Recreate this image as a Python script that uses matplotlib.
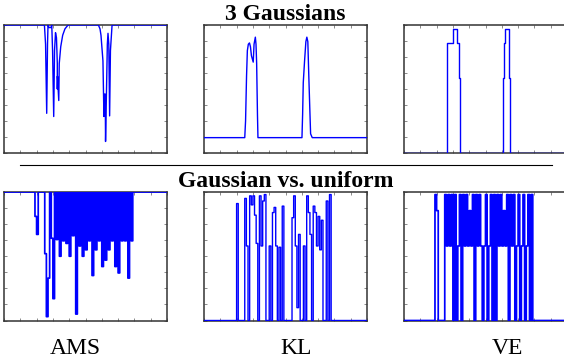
import numpy as np
import matplotlib
matplotlib.use("Agg")
import matplotlib.pyplot as plt
from matplotlib.lines import Line2D

plt.rcParams['font.family'] = ['Liberation Serif', 'DejaVu Serif']

# --- 3 Gaussians (top row), x in % of the range, y normalised 0..1 ---
ams_gauss_x = [0, 24.8, 25.5, 26.2, 26.7, 27.0, 27.6, 28.8, 29.3, 29.8,
               30.5, 31.0, 31.6, 32.2, 32.7, 32.7, 32.8, 33.6, 33.9, 34.8,
               36.0, 37.4, 39.3, 57.9, 58.9, 59.5, 60.7, 61.3, 61.6, 62.1,
               62.3, 62.9, 63.4, 63.8, 64.3, 64.8, 65.3, 66.3, 100]
ams_gauss_v = [1, 1, 0.85, 0.31, 0.85, 1, 0.98, 0.98, 1, 0.8,
               0.285, 0.8, 0.94, 0.9, 0.70, 0.50, 0.6, 0.41, 0.7, 0.83,
               0.92, 0.97, 1, 1, 0.97, 0.92, 0.72, 0.285, 0.46, 0.46,
               0.09, 0.5, 0.85, 0.935, 0.85, 0.29, 0.8, 1, 1]

kl_gauss_x = [0, 25.0, 25.5, 26.1, 26.6, 27.2, 27.9, 28.5, 29.1, 30.2,
              30.7, 31.5, 31.9, 32.3, 32.8, 33.1, 60.1, 60.5, 60.9, 61.7,
              62.5, 63.1, 63.7, 64.3, 64.9, 65.4, 66.4, 100]
kl_gauss_v = [0.12, 0.12, 0.25, 0.6, 0.8, 0.85, 0.86, 0.83, 0.76, 0.71,
              0.85, 0.905, 0.85, 0.7, 0.3, 0.12, 0.12, 0.3, 0.55, 0.72,
              0.87, 0.905, 0.87, 0.6, 0.35, 0.15, 0.12, 0.12]

ve_gauss_x = [0, 26.1, 29.8, 32.3, 33.5, 34.4, 60.7, 61.1, 61.7, 64.3, 64.6, 65.2, 100]
ve_gauss_v = [0, 0.856, 0.972, 0.856, 0.585, 0, 0.585, 0.856, 0.972, 0.856, 0.585, 0, 0]

# --- Gaussian vs. uniform (bottom row), 100 samples each ---
ams_unif = [1, 1, 1, 1, 1, 1, 1, 1, 1, 1,
            1, 1, 1, 1, 1, 1, 1, 1, 1, 0.81,
            0.67, 1, 1, 1, 1, 0.52, 0.03, 0.33, 1, 0.64,
            0.17, 1, 0.63, 1, 0.5, 1, 0.62, 1, 0.6, 1,
            0.5, 1, 0.66, 1, 0.05, 1, 0.58, 1, 0.5, 1,
            0.55, 1, 0.62, 1, 0.35, 1, 0.55, 1, 0.62, 1,
            0.42, 1, 0.47, 1, 0.55, 1, 0.62, 1, 0.42, 1,
            0.37, 1, 0.62, 1, 0.62, 1, 0.33, 1, 0.62, 1,
            1, 1, 1, 1, 1, 1, 1, 1, 1, 1,
            1, 1, 1, 1, 1, 1, 1, 1, 1, 1]

kl_unif = [0, 0, 0, 0, 0, 0, 0, 0, 0, 0,
           0, 0, 0, 0, 0, 0, 0, 0, 0, 0,
           0.91, 0, 0, 0, 0, 0.95, 0.58, 0, 0.97, 0.9,
           0.97, 0.82, 0.6, 0, 0.97, 0.58, 0.93, 0.98, 0, 0,
           0.58, 0, 0.84, 0.88, 0.58, 0, 0.57, 0, 0.89, 0,
           0, 0, 0, 0, 0.8, 0.97, 0.58, 0.1, 0.67, 0,
           0, 0.58, 0, 0.97, 0.84, 0.67, 0, 0.89, 0.84, 0.58,
           0.81, 0.55, 0.78, 0, 0, 0.93, 0, 0.98, 0, 0,
           0, 0, 0, 0, 0, 0, 0, 0, 0, 0,
           0, 0, 0, 0, 0, 0, 0, 0, 0, 0]

ve_unif = [0, 0, 0, 0, 0, 0, 0, 0, 0, 0,
           0, 0, 0, 0, 0, 0, 0, 0, 0, 0.98,
           0.855, 0, 0, 0, 0, 0.98, 0.58, 0.98, 0.58, 0.98,
           0, 0.98, 0, 0.58, 0.98, 0, 0.98, 0.58, 0.98, 0.58,
           0.855, 0.58, 0.98, 0, 0.98, 0.58, 0.98, 0.58, 0, 0.58,
           0.98, 0, 0.58, 0.98, 0, 0.98, 0, 0.98, 0.58, 0.98,
           0.58, 0.855, 0.58, 0.98, 0, 0.98, 0.58, 0.98, 0, 0.58,
           0.98, 0, 0.58, 0.98, 0, 0.58, 0.98, 0, 0.98, 0,
           0, 0, 0, 0, 0, 0, 0, 0, 0, 0,
           0, 0, 0, 0, 0, 0, 0, 0, 0, 0]

W, H = 564, 363
fig = plt.figure(figsize=(W / 100, H / 100), dpi=100)


def px_axes(x0, y0, x1, y1):
    # pixel box (top-left origin) -> figure axes
    return fig.add_axes([x0 / W, 1 - y1 / H, (x1 - x0) / W, (y1 - y0) / H])


def style(ax):
    ax.set_xlim(0, 100)
    ax.set_ylim(0, 1)
    ax.set_xticks(np.arange(0, 101, 10))
    ax.set_yticks(np.linspace(0, 1, 9))
    ax.tick_params(direction='in', length=2.5, width=0.6, color='#777777',
                   top=True, right=True, labelbottom=False, labelleft=False)
    for s in ax.spines.values():
        s.set_color('#333333')
        s.set_linewidth(1.1)


blue = '#0000ff'
top_boxes = [(4, 25, 167, 153), (204, 25, 367, 153), (404, 25, 567, 153)]
bot_boxes = [(4, 192, 167, 320.5), (204, 192, 367, 320.5), (404, 192, 567, 320.5)]

ax = px_axes(*top_boxes[0])
ax.plot(ams_gauss_x, ams_gauss_v, color=blue, lw=1.0, zorder=3)
style(ax)
ax = px_axes(*top_boxes[1])
ax.plot(kl_gauss_x, kl_gauss_v, color=blue, lw=1.0, zorder=3)
style(ax)
ax = px_axes(*top_boxes[2])
ax.plot(ve_gauss_x, ve_gauss_v, color=blue, lw=1.0, drawstyle='steps-post', zorder=3)
style(ax)

xs = np.arange(100) + 0.5
widths = [1.25, 1.0, 1.25]
for box, vals, lw in zip(bot_boxes, [ams_unif, kl_unif, ve_unif], widths):
    ax = px_axes(*box)
    ax.plot(xs, vals, color=blue, lw=lw, drawstyle='steps-mid', zorder=3, snap=False)
    style(ax)

fig.text(285.5 / W, 1 - 20 / H, '3 Gaussians', ha='center', va='baseline',
         fontsize=17, fontweight='bold')
fig.text(285.5 / W, 1 - 187 / H, 'Gaussian vs. uniform', ha='center', va='baseline',
         fontsize=17, fontweight='bold')
fig.add_artist(Line2D([20 / W, 552 / W], [1 - 164.5 / H, 1 - 164.5 / H],
                      color='black', lw=0.8))

for name, cx in [('AMS', 75), ('KL', 296), ('VE', 507)]:
    fig.text(cx / W, 1 - 354 / H, name, ha='center', va='baseline', fontsize=17)

fig.savefig('out.png', dpi=100)
